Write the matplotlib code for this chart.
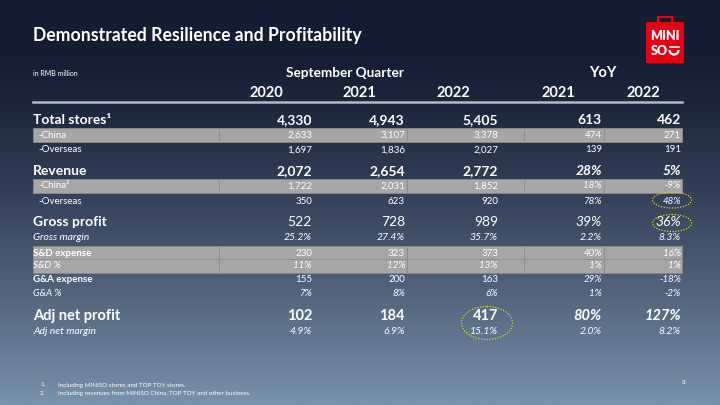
import numpy as np
import matplotlib.pyplot as plt
from matplotlib.patches import Rectangle, Ellipse, Arc

plt.rcParams['font.family'] = ['Lato', 'DejaVu Sans']

# table content
years = ['2020', '2021', '2022']
yoy_years = ['2021', '2022']
row_labels = ['Total stores¹', '-China', '-Overseas',
              'Revenue', '-China²', '-Overseas',
              'Gross profit', 'Gross margin',
              'S&D expense', 'S&D %',
              'G&A expense', 'G&A %',
              'Adj net profit', 'Adj net margin']
quarter_vals = [['4,330', '4,943', '5,405'],
                ['2,633', '3,107', '3,378'],
                ['1,697', '1,836', '2,027'],
                ['2,072', '2,654', '2,772'],
                ['1,722', '2,031', '1,852'],
                ['350', '623', '920'],
                ['522', '728', '989'],
                ['25.2%', '27.4%', '35.7%'],
                ['230', '323', '373'],
                ['11%', '12%', '13%'],
                ['155', '200', '163'],
                ['7%', '8%', '6%'],
                ['102', '184', '417'],
                ['4.9%', '6.9%', '15.1%']]
yoy_vals = [['613', '462'],
            ['474', '271'],
            ['139', '191'],
            ['28%', '5%'],
            ['18%', '-9%'],
            ['78%', '48%'],
            ['39%', '36%'],
            ['2.2%', '8.3%'],
            ['40%', '16%'],
            ['1%', '1%'],
            ['29%', '-18%'],
            ['1%', '-2%'],
            ['80%', '127%'],
            ['2.0%', '8.2%']]
footnotes = ['Including MINISO stores and TOP TOY stores.',
             'Including revenues from MINISO China, TOP TOY and other business.']

# layout (pixel space)
row_y = [120, 135, 150, 171, 186, 201, 222, 238, 253, 266, 280, 294, 316, 331]
# (label size, label weight, label style, value weight, value style, yoy weight, yoy style, label x)
styles = [(10, 'bold', 'normal', 'bold', 'normal', 'bold', 'normal', 33),
          (7, 'normal', 'normal', 'normal', 'normal', 'normal', 'normal', 38),
          (7, 'normal', 'normal', 'normal', 'normal', 'normal', 'normal', 38),
          (10, 'bold', 'normal', 'bold', 'normal', 'bold', 'italic', 33),
          (7, 'normal', 'normal', 'normal', 'normal', 'normal', 'italic', 38),
          (7, 'normal', 'normal', 'normal', 'normal', 'normal', 'italic', 38),
          (10, 'bold', 'normal', 'normal', 'normal', 'normal', 'italic', 33),
          (7.5, 'normal', 'italic', 'normal', 'italic', 'normal', 'italic', 33),
          (7, 'bold', 'normal', 'normal', 'normal', 'normal', 'italic', 33),
          (7, 'normal', 'italic', 'normal', 'italic', 'normal', 'italic', 33),
          (7, 'bold', 'normal', 'normal', 'normal', 'normal', 'italic', 33),
          (7, 'normal', 'italic', 'normal', 'italic', 'normal', 'italic', 33),
          (10.5, 'bold', 'normal', 'bold', 'normal', 'bold', 'italic', 33),
          (7.5, 'normal', 'italic', 'normal', 'italic', 'normal', 'italic', 33)]
col_right = [312, 405, 498, 602, 681]
col_head = [266, 359, 453, 558, 643]
grey_rows = [1, 4, 8, 9]

fig = plt.figure(figsize=(7.2, 4.05), dpi=100)
ax = fig.add_axes([0, 0, 1, 1])
ax.set_xlim(0, 720)
ax.set_ylim(405, 0)
ax.axis('off')

# background gradient
top = np.array([0x13, 0x1d, 0x33]) / 255
bot = np.array([0x7a, 0x92, 0xab]) / 255
t = np.linspace(0, 1, 256)[:, None]
t = np.clip((t - 0.12) / 0.88, 0, 1) ** 1.3
grad = top + (bot - top) * t[:, :, None]
ax.imshow(np.repeat(grad, 2, axis=1), extent=[0, 720, 405, 0], aspect='auto', zorder=0)

ax.text(33, 35, 'Demonstrated Resilience and Profitability', color='white',
        fontsize=12.7, fontweight='bold', va='center', ha='left')
ax.text(33, 73, 'in RMB million', color='white', fontsize=5, va='center')
ax.text(345, 73, 'September Quarter', color='white', fontsize=9.8,
        fontweight='bold', ha='center', va='center')
ax.text(603, 73, 'YoY', color='white', fontsize=10.5, fontweight='bold',
        ha='center', va='center')
for x, lab in zip(col_head, years + yoy_years):
    ax.text(x, 93, lab, color='white', fontsize=10.5, fontweight='bold',
            ha='center', va='center')
ax.plot([33, 682], [102, 102], color='#b4b8c0', lw=1.8)

# grey bands
for i in grey_rows:
    ax.add_patch(Rectangle((33, row_y[i] - 7), 649, 14, facecolor='#a6a6a6',
                           edgecolor='#8a8a8a', lw=0.6, zorder=1))
    for sx in [219, 407, 524, 604]:
        ax.plot([sx, sx], [row_y[i] - 7, row_y[i] + 7], color='#8e8e8e', lw=0.7, zorder=2)

for i, lab in enumerate(row_labels):
    size, lw_, ls_, vw, vs, yw, ys, lx = styles[i]
    y = row_y[i]
    ax.text(lx, y, lab, color='white', fontsize=size, fontweight=lw_, fontstyle=ls_,
            va='center', ha='left', zorder=3)
    for j, v in enumerate(quarter_vals[i]):
        ax.text(col_right[j], y, v, color='white', fontsize=size, fontweight=vw,
                fontstyle=vs, va='center', ha='right', zorder=3)
    for j, v in enumerate(yoy_vals[i]):
        ax.text(col_right[3 + j], y, v, color='white', fontsize=size, fontweight=yw,
                fontstyle=ys, va='center', ha='right', zorder=3)

# highlight ellipses
for (cx, cy, w, h) in [(672, 200, 39, 16), (672, 223, 39, 17), (487, 323, 51, 33)]:
    ax.add_patch(Ellipse((cx, cy), w, h, fill=False, edgecolor='#d8d820',
                         lw=0.9, ls=(0, (1, 1.2)), zorder=4))

# footnotes
for k, note in enumerate(footnotes):
    ax.text(40, 385 + 8.5 * k, f'{k + 1}.', color='white', fontsize=4.5, va='center')
    ax.text(58, 385 + 8.5 * k, note, color='white', fontsize=4.5, va='center')
ax.text(685, 383, '3', color='white', fontsize=4.5, va='center', ha='right')

# logo
ax.add_patch(Rectangle((646, 22), 38, 41, facecolor='#e60012', zorder=3))
ax.add_patch(Rectangle((658, 17), 14, 6, facecolor='none', edgecolor='#e60012', lw=1.5, zorder=3))
ax.text(665, 35.5, 'MINI', color='white', fontsize=9, fontweight='heavy',
        ha='center', va='center', zorder=4)
ax.text(659, 51, 'SO', color='white', fontsize=9, fontweight='heavy',
        ha='center', va='center', zorder=4)
ax.add_patch(Arc((674, 50), 9, 9, theta1=0, theta2=180, color='white', lw=1.6, zorder=4))
ax.plot([669.5, 678.5], [47, 47], color='white', lw=1.2, zorder=4)

fig.savefig('out.png', dpi=100)
